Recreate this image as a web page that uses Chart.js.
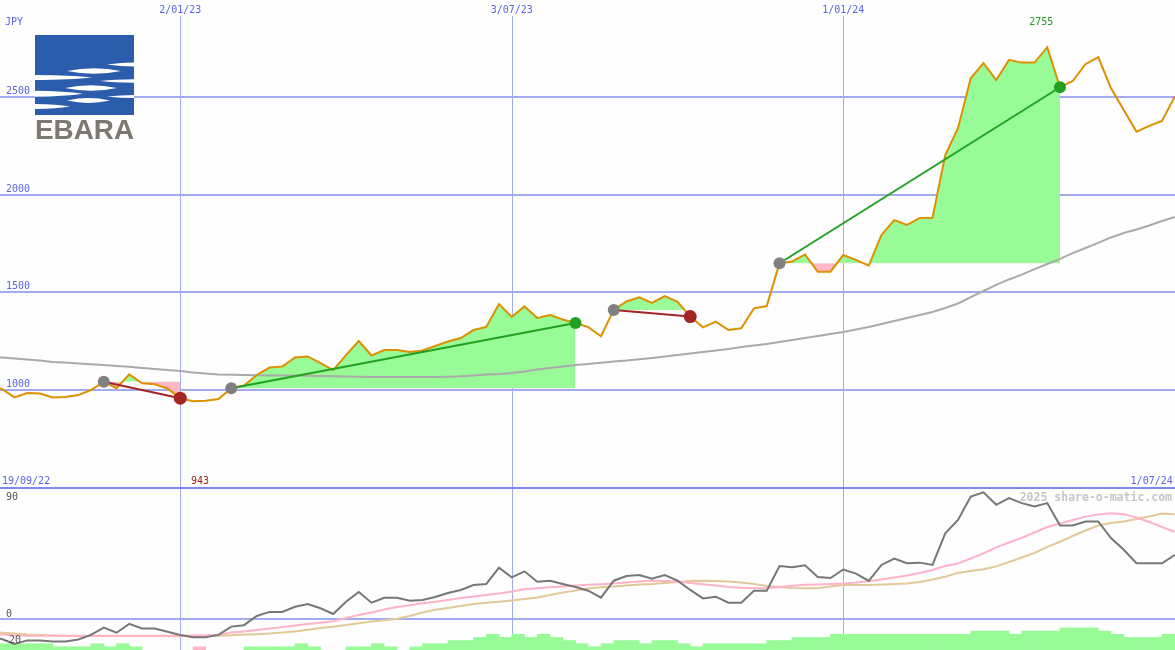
<!DOCTYPE html>
<html lang="en">
<head>
<meta charset="UTF-8">
<title>EBARA | share chart</title>
<script src="https://cdn.jsdelivr.net/npm/chart.js@4.4.1/dist/chart.umd.min.js"></script>
<style>
  html, body { margin: 0; padding: 0; background: #fdfefd; }
  #wrap { position: relative; width: 1175px; height: 650px; overflow: hidden; }
  #chart { display: block; }
  #logo { position: absolute; left: 35px; top: 35px; }
</style>
</head>
<body>
<div id="wrap">
  <canvas id="chart" width="1175" height="650"></canvas>
  <!-- company logo -->
  <svg id="logo" width="100" height="106" viewBox="0 0 100 106">
    <rect x="0" y="0" width="99" height="80" fill="#2c5cac"/>
    <g fill="#ffffff">
      <path d="M99,27.5 L99,31.5 Q86,31.5 72,29.5 Q86,27.5 99,27.5 Z"/>
      <path d="M32,36 Q59,30.5 86,36 Q59,41.5 32,36 Z"/>
      <path d="M0,40 Q36,40.3 57,42.5 Q36,44.8 0,45 Z"/>
      <path d="M99,44.3 L99,47.7 Q80,47.6 65,46 Q80,44.4 99,44.3 Z"/>
      <path d="M30,53 Q56,47.5 82,53 Q56,58.5 30,53 Z"/>
      <path d="M0,55.7 Q30,56 48,58.7 Q30,61.4 0,61.7 Z"/>
      <path d="M99,60 L99,63 Q86,63 72,61.5 Q86,60 99,60 Z"/>
      <path d="M32,65.5 Q53.5,60.7 75,65.5 Q53.5,70.3 32,65.5 Z"/>
      <path d="M0,69 Q22,69.3 35,71.5 Q22,73.7 0,74 Z"/>
    </g>
    <text x="0" y="104" font-family="Arial, 'Liberation Sans', sans-serif" font-weight="bold" font-size="28"
          fill="#7d7870" textLength="99" lengthAdjust="spacingAndGlyphs">EBARA</text>
  </svg>
</div>

<script>
  // weekly closes, JPY, week 0 .. 93 (19/09/22 .. 1/07/24)
  const price = [
    1026, 1005, 962, 985, 982, 962, 964, 974, 1000, 1042,
    1009, 1080, 1034, 1029, 1008, 958, 943, 945, 954, 1009,
    1023, 1077, 1115, 1120, 1166, 1172, 1138, 1102, 1179, 1251,
    1177, 1205, 1205, 1195, 1202, 1225, 1248, 1266, 1307, 1323,
    1440, 1374, 1428, 1369, 1384, 1361, 1343, 1322, 1275, 1410,
    1453, 1474, 1446, 1481, 1451, 1376, 1321, 1350, 1307, 1316,
    1418, 1430, 1649, 1658, 1694, 1606, 1606, 1691, 1666, 1637,
    1794, 1870, 1845, 1881, 1882, 2203, 2340, 2596, 2673, 2587,
    2690, 2676, 2676, 2755, 2550, 2582, 2668, 2704, 2545, 2434,
    2322, 2352, 2377, 2502
  ];

  // long moving average (grey line)
  const movingAvg = [
    1171, 1166, 1161, 1156, 1151, 1144, 1141, 1136, 1132, 1128,
    1123, 1119, 1113, 1108, 1102, 1097, 1090, 1084, 1080, 1078,
    1077, 1075, 1074, 1074, 1074, 1073, 1072, 1071, 1069, 1068,
    1067, 1067, 1067, 1067, 1067, 1067, 1068, 1070, 1074, 1079,
    1082, 1087, 1095, 1105, 1113, 1120, 1128, 1133, 1140, 1146,
    1151, 1158, 1164, 1171, 1179, 1187, 1195, 1202, 1210, 1220,
    1228, 1235, 1246, 1256, 1266, 1276, 1287, 1297, 1310, 1323,
    1338, 1353, 1369, 1384, 1399, 1420, 1443, 1476, 1507, 1538,
    1566, 1591, 1619, 1645, 1671, 1701, 1727, 1753, 1781, 1804,
    1822, 1842, 1865, 1886
  ];

  // lower panel: oscillator (dark grey) and its two averages
  const oscillator = [
    -14, -15.6, -19.5, -16.7, -16.7, -17.6, -17.6, -16.0, -12.5, -6.9,
    -10.8, -4.0, -7.6, -7.6, -10.0, -12.5, -14.3, -14.3, -12.5, -6.1,
    -5.0, 2.1, 5.2, 5.2, 9.2, 11.3, 8.0, 3.6, 13.0, 20.5,
    12.3, 16.1, 16.1, 13.8, 14.4, 16.7, 19.8, 22.1, 25.9, 26.7,
    39.2, 31.8, 36.4, 28.4, 29.2, 26.7, 24.4, 21.5, 16.2, 29.2,
    32.8, 33.6, 30.8, 33.6, 29.2, 22.1, 15.6, 16.9, 12.3, 12.3,
    21.5, 21.5, 40.5, 39.5, 41.0, 32.1, 31.3, 37.8, 34.7, 29.1,
    41.3, 46.2, 42.6, 43.1, 41.3, 65.7, 76.0, 93.9, 97.2, 87.6,
    92.7, 88.9, 86.3, 88.9, 71.7, 71.7, 74.8, 74.8, 62.0, 53.0,
    42.6, 42.6, 42.6, 49.0
  ];
  const oscFast = [
    -11.8, -12.2, -12.9, -13.1, -13.1, -13.1, -13.1, -13.1, -13.1, -13.1,
    -13.1, -13.1, -13.1, -13.1, -13.1, -13.1, -12.9, -12.7, -12.4, -10.6,
    -9.8, -8.8, -7.6, -6.5, -5.2, -4.1, -3.1, -2.0, 0.5, 2.8,
    4.8, 7.1, 9.0, 10.3, 11.8, 13.1, 14.4, 15.9, 17.1, 18.2,
    19.4, 20.9, 22.6, 23.4, 24.2, 24.8, 25.5, 26.1, 26.5, 27.1,
    27.8, 28.6, 29.2, 29.0, 28.5, 27.5, 26.5, 25.5, 24.4, 23.8,
    23.4, 23.4, 24.4, 25.4, 26.1, 26.3, 26.7, 27.1, 27.8, 28.8,
    30.2, 31.7, 33.2, 35.2, 37.5, 40.5, 42.5, 46.3, 50.2, 54.8,
    58.6, 62.1, 66.3, 70.5, 73.2, 75.9, 78.5, 80.2, 81.1, 80.4,
    77.8, 74.4, 70.5, 66.9
  ];
  const oscSlow = [
    -10.2, -10.8, -11.5, -12.2, -12.5, -13.0, -13.3, -13.3, -13.3, -13.3,
    -13.3, -13.3, -13.3, -13.3, -13.3, -13.3, -13.3, -13.3, -13.2, -12.7,
    -12.2, -11.9, -11.4, -10.6, -9.8, -8.6, -7.2, -6.2, -4.8, -3.5,
    -2.1, -1.2, -0.1, 2.1, 4.8, 6.8, 8.2, 9.8, 11.2, 12.3,
    13.0, 14.0, 15.2, 16.3, 18.2, 20.2, 21.7, 23.2, 24.2, 24.8,
    25.5, 26.2, 26.7, 27.5, 28.2, 29.0, 29.2, 29.0, 28.6, 27.8,
    26.7, 25.2, 24.4, 23.6, 23.4, 23.4, 24.8, 25.9, 25.9, 25.9,
    26.3, 26.7, 27.1, 28.2, 30.2, 32.3, 35.2, 36.7, 38.0, 40.2,
    43.6, 47.1, 50.5, 55.2, 59.2, 63.6, 67.8, 71.7, 73.6, 74.8,
    76.7, 78.6, 80.8, 80.3
  ];

  // bottom strip, one step per week (negative = pink)
  const volumeLevels = [
    2, 2, 2, 2, 2, 1, 1, 1, 2, 1,
    2, 1, 0, 0, 0, 0, -1, 0, 0, 0,
    1, 1, 1, 1, 2, 1, 0, 0, 1, 1,
    2, 1, 0, 1, 2, 2, 3, 3, 4, 5,
    4, 5, 4, 5, 4, 3, 2, 1, 2, 3,
    3, 2, 3, 3, 2, 1, 2, 2, 2, 2,
    2, 3, 3, 4, 4, 4, 5, 5, 5, 5,
    5, 5, 5, 5, 5, 5, 5, 6, 6, 6,
    5, 6, 6, 6, 7, 7, 7, 6, 5, 4,
    4, 4, 5
  ];

  // trades: week of entry / exit
  const tradeEntry = [9, 19, 49, 62];
  const tradeExit = [15, 46, 55, 84];

  const priceTicks = [1000, 1500, 2000, 2500];
  const dateTickWeeks = [15, 41, 67];
  const dateTickLabels = ['2/01/23', '3/07/23', '1/01/24'];
  const oscTicks = [90, 0, -20];
  const startLabel = '19/09/22';
  const endLabel = '1/07/24';

  const GREEN = '#98fb98';
  const PINK = '#ffb6c6';
  const GRID = '#a3abf0';
  const AXIS_TEXT = '#5b63e6';
  const MONO = '"DejaVu Sans Mono", "Liberation Mono", monospace';

  const pts = (arr) => arr.map((v, i) => ({ x: i, y: v }));

  const datasets = [];

  datasets.push({
    type: 'bar',
    yAxisID: 'yv',
    data: volumeLevels.map((v, k) => ({ x: k + 0.5, y: v === 0 ? null : Math.abs(v) })),
    backgroundColor: volumeLevels.map(v => (v < 0 ? PINK : GREEN)),
    borderWidth: 0,
    barPercentage: 1,
    categoryPercentage: 1,
    order: 10
  });

  // shaded area between price and entry level for each trade
  tradeEntry.forEach((e, t) => {
    const x = tradeExit[t];
    datasets.push({
      type: 'line',
      yAxisID: 'y',
      data: pts(price).slice(e, x + 1),
      borderWidth: 0,
      pointRadius: 0,
      fill: { target: { value: price[e] }, above: GREEN, below: PINK },
      order: 9
    });
  });

  datasets.push({ type: 'line', yAxisID: 'y', data: pts(movingAvg), borderColor: '#aaaaaa', borderWidth: 2, pointRadius: 0, fill: false, order: 7 });
  datasets.push({ type: 'line', yAxisID: 'yo', data: pts(oscSlow), borderColor: '#e3c99a', borderWidth: 2, pointRadius: 0, fill: false, order: 6 });
  datasets.push({ type: 'line', yAxisID: 'yo', data: pts(oscFast), borderColor: '#ffb3c8', borderWidth: 2, pointRadius: 0, fill: false, order: 5 });
  datasets.push({ type: 'line', yAxisID: 'yo', data: pts(oscillator), borderColor: '#777777', borderWidth: 2, pointRadius: 0, fill: false, order: 4 });
  datasets.push({ type: 'line', yAxisID: 'y', data: pts(price), borderColor: '#dd9000', borderWidth: 2, pointRadius: 0, fill: false, order: 3 });

  // trade lines with entry (grey) and exit dots
  tradeEntry.forEach((e, t) => {
    const x = tradeExit[t];
    const win = price[x] > price[e];
    const col = win ? '#22a022' : '#a52424';
    datasets.push({
      type: 'line',
      yAxisID: 'y',
      data: [{ x: e, y: price[e] }, { x: x, y: price[x] }],
      borderColor: col,
      borderWidth: 2,
      pointRadius: [6, win ? 6 : 6.5],
      pointBackgroundColor: ['#808080', col],
      pointBorderWidth: 0,
      fill: false,
      order: 1
    });
  });

  // grid + labels drawn against the chart scales
  const decor = {
    id: 'decor',
    beforeDraw(chart) {
      const ctx = chart.ctx;
      ctx.save();
      ctx.fillStyle = '#fdfefd';
      ctx.fillRect(0, 0, chart.width, chart.height);
      ctx.restore();
    },
    beforeDatasetsDraw(chart) {
      const { ctx, width, height } = chart;
      const { x, y, yo } = chart.scales;
      ctx.save();
      ctx.fillStyle = GRID;
      priceTicks.forEach(v => {
        ctx.fillRect(0, Math.round(y.getPixelForValue(v)) - 1, width, 2);
      });
      dateTickWeeks.forEach(w => {
        ctx.fillRect(Math.round(x.getPixelForValue(w)), 16, 1, height - 16);
      });
      ctx.fillRect(0, Math.round(yo.getPixelForValue(0)) - 1, width, 2);
      // panel separator
      ctx.fillStyle = '#7d89ec';
      ctx.fillRect(0, Math.round(y.getPixelForValue(500)) - 1, width, 2);
      ctx.restore();
    },
    afterDatasetsDraw(chart) {
      const { ctx } = chart;
      const { x, y, yo } = chart.scales;
      const sepY = Math.round(y.getPixelForValue(500));
      ctx.save();
      ctx.font = '10px ' + MONO;
      ctx.textBaseline = 'alphabetic';

      ctx.fillStyle = AXIS_TEXT;
      ctx.textAlign = 'left';
      ctx.fillText('JPY', 5, 25);
      priceTicks.forEach(v => ctx.fillText(String(v), 6, y.getPixelForValue(v) - 3));

      ctx.textAlign = 'center';
      dateTickWeeks.forEach((w, i) => ctx.fillText(dateTickLabels[i], x.getPixelForValue(w), 13));

      ctx.textAlign = 'left';
      ctx.fillText(startLabel, 2, sepY - 4);
      ctx.textAlign = 'right';
      ctx.fillText(endLabel, x.getPixelForValue(93) - 2, sepY - 4);

      // high / low of the period
      const hi = Math.max(...price), lo = Math.min(...price);
      ctx.textAlign = 'center';
      ctx.fillStyle = '#229922';
      ctx.fillText(String(hi), x.getPixelForValue(price.indexOf(hi)) - 6, 25);
      ctx.fillStyle = '#a01c1c';
      ctx.fillText(String(lo), x.getPixelForValue(price.indexOf(lo)) + 7, sepY - 4);

      ctx.textAlign = 'left';
      ctx.fillStyle = '#555555';
      oscTicks.forEach(v => {
        const lx = v < 0 ? 3 : 6;
        ctx.fillText(String(v), lx, yo.getPixelForValue(v) - 2);
      });

      ctx.font = 'bold 11.5px ' + MONO;
      ctx.fillStyle = '#c6c6c6';
      ctx.textAlign = 'right';
      ctx.fillText('2025 share-o-matic.com', 1172, sepY + 13);
      ctx.restore();
    }
  };

  new Chart(document.getElementById('chart'), {
    type: 'line',
    data: { datasets },
    options: {
      responsive: false,
      animation: false,
      events: [],
      layout: { padding: 0, autoPadding: false },
      elements: { line: { tension: 0 } },
      plugins: { legend: { display: false }, tooltip: { enabled: false } },
      scales: {
        x: { type: 'linear', min: 0.8627, max: 93.02, offset: false, grid: { offset: false }, display: false },
        y: { type: 'linear', min: -331, max: 2996.6, display: false },
        yo: { type: 'linear', min: -24.1, max: 475.9, display: false },
        yv: { type: 'linear', min: 0, max: 206, display: false }
      }
    },
    plugins: [decor]
  });
</script>
</body>
</html>
